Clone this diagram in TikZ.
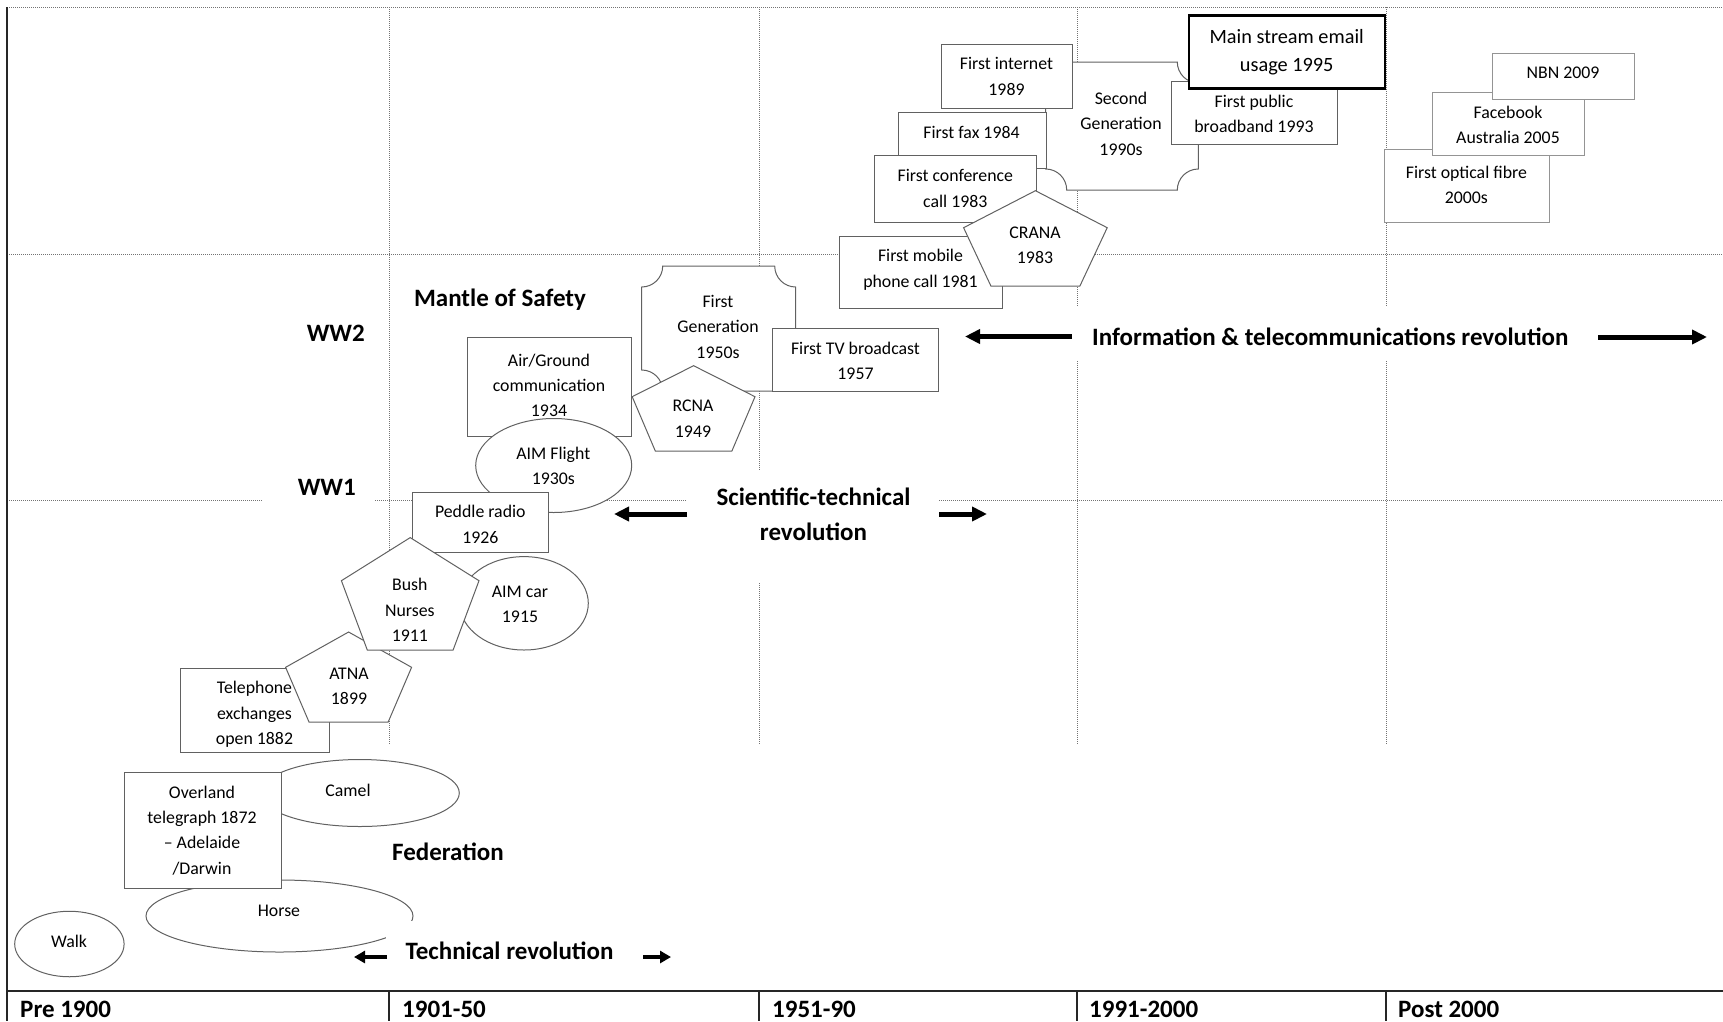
\documentclass[tikz,border=0pt]{standalone}
\usepackage{fontspec}
\setmainfont{Carlito}
\usetikzlibrary{shapes.geometric,arrows.meta}

% pentagon: centre x, top y, half width at shoulders, shoulder y, half width at base, base y
\newcommand{\pentshape}[6]{%
  \draw[outline] (#1,#2) -- ({#1+#3},#4) -- ({#1+#5},#6) -- ({#1-#5},#6) -- ({#1-#3},#4) -- cycle;}

% plaque (rectangle with concave corners): x1, y1, x2, y2 (y grows downwards)
\newcommand{\plaqueshape}[4]{%
  \draw[outline] ({#1+21},#2) -- ({#3-21},#2) arc[start angle=180,end angle=270,radius=21pt]
    -- (#3,{#4-21}) arc[start angle=90,end angle=180,radius=21pt]
    -- ({#1+21},#4) arc[start angle=0,end angle=90,radius=21pt]
    -- (#1,{#2+21}) arc[start angle=270,end angle=360,radius=21pt] -- cycle;}

\begin{document}
\begin{tikzpicture}[x=1pt,y=-1pt,
  gridline/.style={black!55,line width=1pt,dash pattern=on 1pt off 1pt},
  frame/.style={black!85,line width=1.6pt},
  box/.style={draw=black!62,line width=1pt,fill=white,rectangle,inner sep=0pt},
  softbox/.style={box,draw=black!42},
  heavybox/.style={box,draw=black,line width=2.5pt},
  oval/.style={draw=black!62,line width=1pt,fill=white,ellipse,inner sep=0pt},
  outline/.style={draw=black!62,line width=1pt,fill=white,line join=miter},
  txt/.style={inner sep=0pt,align=center,font=\fontsize{17.8}{25.3}\selectfont},
  bigtxt/.style={inner sep=0pt,align=center,font=\fontsize{20.3}{28.3}\selectfont},
  lab/.style={inner sep=0pt,align=center,font=\bfseries\fontsize{25}{35}\selectfont},
  period/.style={lab,anchor=base west},
  bigarrow/.style={line width=5pt,-{Triangle[length=15pt,width=14pt]}},
  smallarrow/.style={line width=4pt,-{Triangle[length=11pt,width=12pt]}},
]
\useasboundingbox (0,0) rectangle (1723,1021);

% ---- grid -------------------------------------------------------------
\draw[gridline] (7,7) -- (1723,7);
\draw[gridline] (7,254) -- (1723,254);
\draw[gridline] (7,500) -- (1723,500);
\foreach \x in {389,759,1077,1386} \draw[gridline] (\x,7) -- (\x,745);

% ---- frame and period row -----------------------------------------------
\draw[frame] (7,7) -- (7,1021);
\draw[frame] (7,991) -- (1723,991);
\foreach \x in {389,759,1077,1386} \draw[frame] (\x,991) -- (\x,1021);

\node[period] (p1) at (20,1017) {Pre 1900};
\node[period] (p2) at (402,1017) {1901-50};
\node[period] (p3) at (772,1017) {1951-90};
\node[period] (p4) at (1089,1017) {1991-2000};
\node[period] (p5) at (1398,1017) {Post 2000};

% ---- clear space behind the labels ---------------------------------------
\fill[white] (263,488) rectangle (375,512);
\fill[white] (687,470) rectangle (939,583);
\fill[white] (1074,307) rectangle (1590,360);

% ---- era labels -----------------------------------------------------------
\node[lab,anchor=base] (ww2) at (335.8,341.7) {WW2};
\node[lab,anchor=base] (ww1) at (326.8,495) {WW1};
\node[lab,anchor=base] (mantle) at (500,306) {Mantle of Safety};
\node[lab,anchor=base] (federation) at (448,860.5) {Federation};

% ---- pre 1900 ---------------------------------------------------------------
\node[oval,minimum width=267pt,minimum height=72pt] (horse) at (279.5,916) {};
\node[txt] (horse-t) at (279,911) {Horse};
\node[oval,minimum width=199.2pt,minimum height=67pt] (camel) at (359.7,793) {};
\node[txt] (camel-t) at (348,790) {Camel};
\node[box,minimum width=156.8pt,minimum height=115.4pt] (overland) at (202.9,830.3) {};
\node[txt] (overland-t) at (202,830.3) {Overland\\telegraph 1872\\\textendash{} Adelaide\\/Darwin};
\node[oval,minimum width=109.4pt,minimum height=65.5pt] (walk) at (69.4,944) {};
\node[txt] (walk-t) at (69,941.6) {Walk};

\fill[white] (386,921) rectangle (633,985);
\node[lab,anchor=base] (techrev) at (509.5,959) {Technical revolution};
\coordinate (tl1) at (387,957); \coordinate (tl2) at (354,957);
\coordinate (tr1) at (643,957); \coordinate (tr2) at (671,957);
\draw[smallarrow] (tl1) -- (tl2);
\draw[smallarrow] (tr1) -- (tr2);

\node[box,minimum width=149pt,minimum height=84.6pt] (telephone) at (254.5,710.3) {};
\node[txt] (telephone-t) at (254.5,714.5) {Telephone\\exchanges\\open 1882};

% ---- 1901-50 --------------------------------------------------------------
\node[box,minimum width=164.7pt,minimum height=98.7pt] (airground) at (549.35,386.65) {};
\node[txt] (airground-t) at (549,385.5) {Air/Ground\\communication\\1934};
\node[oval,minimum width=156pt,minimum height=94pt] (aimflight) at (553.7,465.5) {};
\node[txt] (aimflight-t) at (553.3,465.9) {AIM Flight\\1930s};
\node[box,minimum width=135.6pt,minimum height=60.4pt] (peddle) at (480.5,522.5) {};
\node[txt] (peddle-t) at (480.3,524.5) {Peddle radio\\1926};
\node[oval,minimum width=128.6pt,minimum height=93.4pt] (aimcar) at (524,603.3) {};
\node[txt] (aimcar-t) at (520,604) {AIM car\\1915};
\pentshape{348.6}{632}{63}{667.3}{39.5}{722.2}
\node[txt] (atna-t) at (349,686.5) {ATNA\\1899};
\pentshape{410.2}{537.6}{68.8}{580.7}{42.9}{650}
\node[txt] (bush-t) at (409.8,610.1) {Bush\\Nurses\\1911};

% ---- 1951-90 --------------------------------------------------------------
\plaqueshape{641.7}{266}{795.7}{391}
\node[txt] (firstgen-t) at (718,326.7) {First\\Generation\\1950s};
\node[box,minimum width=165.6pt,minimum height=62.7pt] (tv) at (855.5,359.65) {};
\node[txt] (tv-t) at (855.5,361) {First TV broadcast\\1957};
\pentshape{693.6}{365.7}{61.4}{396.7}{38.3}{451}
\node[txt] (rcna-t) at (693,418.7) {RCNA\\1949};

\node[lab] (scirev) at (813.5,514.3) {Scientific-technical\\revolution};
\coordinate (sl1) at (687,514); \coordinate (sl2) at (614,514);
\coordinate (sr1) at (939,514); \coordinate (sr2) at (987,514);
\draw[bigarrow] (sl1) -- (sl2);
\draw[bigarrow] (sr1) -- (sr2);

\plaqueshape{1045.7}{62}{1198.3}{190}
\node[txt] (secondgen-t) at (1121,123.8) {Second\\Generation\\1990s};
\node[box,minimum width=131pt,minimum height=64pt] (internet) at (1006.5,76) {};
\node[txt] (internet-t) at (1006.5,76.5) {First internet\\1989};
\node[box,minimum width=148pt,minimum height=56pt] (fax) at (972,140) {};
\node[txt] (fax-t) at (971.5,132) {First fax 1984};
\node[box,minimum width=162.5pt,minimum height=67pt] (conference) at (955.25,188.5) {};
\node[txt] (conference-t) at (955.3,188.5) {First conference\\call 1983};
\node[box,minimum width=163pt,minimum height=71.6pt] (mobile) at (920.5,272.5) {};
\node[txt] (mobile-t) at (920.5,269.7) {First mobile\\phone call 1981};
\pentshape{1035.4}{190.7}{71.8}{227.7}{44.5}{286}
\node[txt] (crana-t) at (1035,245.5) {CRANA\\1983};

% ---- 1991-2000 ------------------------------------------------------------
\node[box,minimum width=166pt,minimum height=63.3pt] (broadband) at (1254.3,112.65) {};
\node[txt] (broadband-t) at (1254,113.9) {First public\\broadband 1993};
\node[heavybox,minimum width=196pt,minimum height=73pt] (email) at (1287,51.8) {};
\node[bigtxt] (email-t) at (1286.7,52.5) {Main stream email\\usage 1995};

\node[lab,anchor=base] (inforev) at (1330.3,345) {Information \& telecommunications revolution};
\coordinate (il1) at (1072,336.5); \coordinate (il2) at (965,336.5);
\coordinate (ir1) at (1598,337); \coordinate (ir2) at (1707,337);
\draw[bigarrow] (il1) -- (il2);
\draw[bigarrow] (ir1) -- (ir2);

% ---- post 2000 --------------------------------------------------------------
\node[softbox,minimum width=165.4pt,minimum height=73pt] (fibre) at (1466.7,185.5) {};
\node[txt] (fibre-t) at (1466.4,184.85) {First optical fibre\\2000s};
\node[softbox,minimum width=152.8pt,minimum height=63.7pt] (facebook) at (1508.4,123.85) {};
\node[txt] (facebook-t) at (1508,125) {Facebook\\Australia 2005};
\node[softbox,minimum width=141.6pt,minimum height=46pt] (nbn) at (1563.2,76.3) {};
\node[txt] (nbn-t) at (1563,72.7) {NBN 2009};

\end{tikzpicture}
\end{document}
